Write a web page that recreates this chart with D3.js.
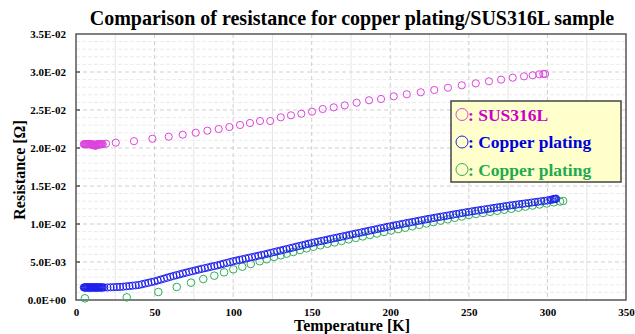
<!DOCTYPE html>
<html>
<head>
<meta charset="utf-8">
<script src="https://cdn.jsdelivr.net/npm/d3@7"></script>
<style>
  body { margin: 0; background: #fff; }
  text { font-family: "Liberation Serif", "Times New Roman", serif; font-weight: bold; }
</style>
</head>
<body>
<svg id="chart" width="635" height="334"></svg>
<script>
// ---- data ----
var xTicks = [0, 50, 100, 150, 200, 250, 300, 350];
var yTicks = [0, 0.005, 0.01, 0.015, 0.02, 0.025, 0.03, 0.035];
var yTickLabels = ["0.0E+00", "5.0E-03", "1.0E-02", "1.5E-02", "2.0E-02", "2.5E-02", "3.0E-02", "3.5E-02"];

var seriesNames = ["SUS316L", "Copper plating", "Copper plating"];

// SUS316L (magenta)
var susT = [5, 5.4, 5.8, 6.2, 6.6, 7, 7.4, 7.8, 8.2, 8.6, 9, 9.4, 9.8, 10.2, 10.6, 11, 11.4, 11.8, 12.2, 12.6, 13, 13.4, 13.8, 14.2, 14.6, 15, 15.5, 16, 16.5, 17,
  19.1, 25.3, 36.9, 48.6, 59, 67.9, 76.2, 83.6, 90.8, 97.6, 104.4, 110.7, 117.1, 123.6, 130.3, 136.8, 143.4, 150.2,
  157, 164, 171, 178.6, 186.5, 194.1, 202.2, 210.5, 219.4, 228, 236.7, 245.5, 254.4, 262.8, 270.5, 277.9, 285.1, 290.6, 294.8, 297.4, 298.5];
var susR = [0.0205, 0.0205, 0.0205, 0.0205, 0.0205, 0.0205, 0.0205, 0.0205, 0.0205, 0.0205, 0.0205, 0.0205, 0.0205, 0.0204, 0.0204, 0.0205, 0.0204, 0.0203, 0.0204, 0.0203, 0.0204, 0.0205, 0.0204, 0.0205, 0.0205, 0.0205, 0.0205, 0.0205, 0.0205, 0.0205,
  0.02057, 0.0207, 0.0209, 0.02122, 0.02149, 0.02175, 0.02201, 0.02228, 0.0225, 0.02276, 0.02303, 0.02329, 0.02355, 0.02355, 0.02404, 0.0243, 0.02451, 0.02478,
  0.02513, 0.02535, 0.02561, 0.02596, 0.02628, 0.02645, 0.0268, 0.02707, 0.02733, 0.02763, 0.02793, 0.02825, 0.02851, 0.02878, 0.02899, 0.02925, 0.02943, 0.02957, 0.0297, 0.02974, 0.02974];

// Copper plating (blue)
var cuAT = [5, 5.4, 5.8, 6.2, 6.6, 7, 7.4, 7.8, 8.2, 8.6, 9, 9.4, 9.8, 10.2, 10.6, 11, 11.4, 11.8, 12.2, 12.6, 13, 13.4, 13.8, 14.2, 14.6, 15, 15.5, 16, 16.5, 17, 18,
  20, 22, 24, 26, 28, 30, 32, 34, 36, 38, 40, 42, 44, 46, 48, 50, 52, 54, 56, 58, 60, 62, 64, 66, 68, 70,
  72, 74, 76, 78, 80, 82, 84, 86, 88, 90, 92, 94, 96, 98, 100, 102, 104, 106, 108, 110, 112, 114, 116, 118, 120,
  122, 124, 126, 128, 130, 132, 134, 136, 138, 140, 142, 144, 146, 148, 150, 152, 154, 156, 158, 160, 162, 164, 166, 168, 170, 172, 174,
  176, 178, 180, 182, 184, 186, 188, 190, 192, 194, 196, 198, 200, 202, 204, 206, 208, 210, 212, 214, 216, 218, 220, 222, 224,
  226, 228, 230, 232, 234, 236, 238, 240, 242, 244, 246, 248, 250, 252, 254, 256, 258, 260, 262, 264, 266, 268, 270, 272, 274,
  276, 278, 280, 282, 284, 286, 288, 290, 292, 294, 296, 298, 300, 302, 303, 304, 304.5, 305, 305.5];
var cuAR = [0.00165, 0.00165, 0.00165, 0.00165, 0.00165, 0.00165, 0.00165, 0.00165, 0.00165, 0.00165, 0.00165, 0.00165, 0.00165, 0.00165, 0.00165, 0.00165, 0.00165, 0.00165, 0.00165, 0.00165, 0.00165, 0.00165, 0.00165, 0.00165, 0.00165, 0.00165, 0.00165, 0.00165, 0.00165, 0.00165, 0.00165,
  0.00165, 0.00167, 0.00169, 0.00171, 0.00173, 0.00175, 0.0018, 0.00184, 0.00189, 0.00193, 0.00198, 0.00207, 0.00217, 0.00226, 0.00236, 0.00245, 0.00257, 0.00269, 0.00281, 0.00293, 0.00305, 0.00316, 0.00327, 0.00338, 0.00349, 0.0036,
  0.0037, 0.0038, 0.0039, 0.004, 0.0041, 0.00419, 0.00428, 0.00438, 0.00447, 0.00456, 0.00467, 0.00478, 0.00488, 0.00499, 0.0051, 0.00519, 0.00528, 0.00537, 0.00546, 0.00555, 0.00564, 0.00573, 0.00582, 0.00591, 0.006,
  0.0061, 0.0062, 0.0063, 0.0064, 0.0065, 0.0066, 0.0067, 0.0068, 0.0069, 0.007, 0.0071, 0.0072, 0.0073, 0.0074, 0.0075, 0.00759, 0.00768, 0.00776, 0.00785, 0.00794, 0.00803, 0.00812, 0.0082, 0.00829, 0.00838, 0.00847, 0.00856,
  0.00865, 0.00874, 0.00882, 0.00891, 0.009, 0.00909, 0.00918, 0.00926, 0.00935, 0.00944, 0.00953, 0.00962, 0.0097, 0.00978, 0.00986, 0.00994, 0.01002, 0.0101, 0.01018, 0.01026, 0.01034, 0.01042, 0.0105, 0.01058, 0.01066,
  0.01073, 0.0108, 0.01088, 0.01095, 0.01102, 0.01109, 0.01116, 0.01124, 0.01131, 0.01138, 0.01145, 0.01153, 0.0116, 0.01166, 0.01173, 0.01179, 0.01186, 0.01192, 0.01198, 0.01205, 0.01211, 0.01218, 0.01224, 0.0123, 0.01237,
  0.01243, 0.01248, 0.01254, 0.0126, 0.01265, 0.01271, 0.01276, 0.01282, 0.01288, 0.01293, 0.01299, 0.01304, 0.0131, 0.01318, 0.01322, 0.01326, 0.01329, 0.01331, 0.01333];

// Copper plating (green)
var cuBT = [5.7, 32.3, 52.4, 64.1, 73.2, 81, 88, 94.2, 100.1, 105.8, 111.2, 116.9, 121.4, 126, 130.3, 134.1, 138.3, 142.5, 146.8, 151,
  155.5, 160, 164.5, 169, 173.5, 178, 182.5, 187, 191.5, 196, 200.5, 205, 209.5, 214, 218.5, 223, 227.5, 232, 236.5, 241, 245.5, 250,
  254.5, 259, 263.5, 268, 272.5, 277, 281.5, 286, 290.5, 295, 299.5, 304, 308, 310];
var cuBR = [0.00022, 0.00035, 0.00105, 0.00171, 0.00228, 0.00276, 0.0032, 0.00364, 0.00404, 0.00438, 0.00474, 0.0051, 0.00536, 0.00566, 0.00588, 0.0061, 0.00632, 0.00658, 0.0068, 0.00701,
  0.0072, 0.0074, 0.00759, 0.00778, 0.00798, 0.00817, 0.00837, 0.00856, 0.00875, 0.00895, 0.00914, 0.00933, 0.00951, 0.0097, 0.00988, 0.01007, 0.01025, 0.01044, 0.01062, 0.01081, 0.01099, 0.01118,
  0.01132, 0.01146, 0.0116, 0.01174, 0.01188, 0.01201, 0.01215, 0.01229, 0.01243, 0.01257, 0.0127, 0.01285, 0.01296, 0.01303];

// ---- drawing ----
var margin = {top: 34, right: 9, bottom: 34, left: 76};
var width = 635 - margin.left - margin.right;
var height = 334 - margin.top - margin.bottom;

var svg = d3.select("#chart");
var g = svg.append("g").attr("transform", "translate(" + margin.left + "," + margin.top + ")");

var x = d3.scaleLinear().domain([0, 350]).range([0, width]);
var y = d3.scaleLinear().domain([0, 0.035]).range([height, 0]);

// minor grid
var xMinor = [25, 75, 125, 175, 225, 275, 325];
var yMinor = d3.range(1, 35).map(function (i) { return i / 1000; }).filter(function (v) { return Math.round(v * 1000) % 5 != 0; });
g.selectAll(".xminor").data(xMinor).enter().append("line")
  .attr("x1", d => x(d)).attr("x2", d => x(d)).attr("y1", 0).attr("y2", height)
  .style("stroke", "#e6e6e6");
g.selectAll(".yminor").data(yMinor).enter().append("line")
  .attr("x1", 0).attr("x2", width).attr("y1", d => y(d)).attr("y2", d => y(d))
  .style("stroke", "#ececec").style("stroke-dasharray", "4,2");

// major grid (dashed)
g.selectAll(".xmajor").data(xTicks.slice(1, -1)).enter().append("line")
  .attr("x1", d => x(d)).attr("x2", d => x(d)).attr("y1", 0).attr("y2", height)
  .style("stroke", "#cfcfcf").style("stroke-dasharray", "4,3");
g.selectAll(".ymajor").data(yTicks.slice(1, -1)).enter().append("line")
  .attr("x1", 0).attr("x2", width).attr("y1", d => y(d)).attr("y2", d => y(d))
  .style("stroke", "#cfcfcf").style("stroke-dasharray", "4,3");

// axes
var xAxis = d3.axisBottom(x).tickValues(xTicks).tickSize(0).tickPadding(8);
var xAxisGroup = g.append("g").attr("transform", "translate(0," + height + ")").call(xAxis);
xAxisGroup.select(".domain").remove();
xAxisGroup.selectAll("text").style("font-size", "11px").style("font-family", "Liberation Serif").style("font-weight", "bold").attr("fill", "#000");

var yAxis = d3.axisLeft(y).tickValues(yTicks).tickSize(0).tickPadding(10)
  .tickFormat(function (d, i) { return yTickLabels[i]; });
var yAxisGroup = g.append("g").call(yAxis);
yAxisGroup.select(".domain").remove();
yAxisGroup.selectAll("text").style("font-size", "11px").style("font-family", "Liberation Serif").style("font-weight", "bold").attr("fill", "#000");

// small inner ticks on left axis
g.selectAll(".ltick").data(yTicks.slice(1, -1)).enter().append("line")
  .attr("x1", 0).attr("x2", 4).attr("y1", d => y(d)).attr("y2", d => y(d))
  .style("stroke", "#333").style("stroke-width", 1.2);

// plot frame
g.append("rect").attr("x", 0).attr("y", 0).attr("width", width).attr("height", height)
  .attr("fill", "none").style("stroke", "#555").style("stroke-width", 1.5);

// points
function plotPoints(tArr, rArr, color, r) {
  var pts = tArr.map(function (t, i) { return {t: t, r: rArr[i]}; });
  g.append("g").selectAll("circle").data(pts).enter().append("circle")
    .attr("cx", d => x(d.t)).attr("cy", d => y(d.r)).attr("r", r)
    .attr("fill", "none").style("stroke", color).style("stroke-width", 1);
}
plotPoints(susT, susR, "#dd44dd", 3.6);
plotPoints(cuBT, cuBR, "#2fae5a", 3.8);
plotPoints(cuAT, cuAR, "#1f1fee", 3.6);

// legend
var legendColors = ["#cc00cc", "#0000dd", "#1faa50"];
var legendMarker = ["#dd44dd", "#2222ee", "#2fae5a"];
var legend = svg.append("g").attr("transform", "translate(451,101)");
legend.append("rect").attr("width", 170).attr("height", 81)
  .attr("fill", "#ffffcc").style("stroke", "#444").style("stroke-width", 1.5);
seriesNames.forEach(function (name, i) {
  legend.append("circle").attr("cx", 11).attr("cy", 13.5 + i * 27.5).attr("r", 6)
    .attr("fill", "none").style("stroke", legendMarker[i]).style("stroke-width", 1);
  legend.append("text").attr("x", 17).attr("y", 19.5 + i * 27.5)
    .style("font-size", "17.5px").attr("fill", legendColors[i])
    .text(": " + name);
});

// titles
svg.append("text").attr("x", 352).attr("y", 25).attr("text-anchor", "middle")
  .style("font-size", "20px").attr("fill", "#000")
  .text("Comparison of resistance for copper plating/SUS316L sample");

svg.append("text").attr("x", 352).attr("y", 331).attr("text-anchor", "middle")
  .style("font-size", "16px").attr("fill", "#000")
  .text("Temperature [K]");

svg.append("text").attr("transform", "translate(25,170) rotate(-90)").attr("text-anchor", "middle")
  .style("font-size", "16px").attr("fill", "#000")
  .text("Resistance [Ω]");
</script>
</body>
</html>
